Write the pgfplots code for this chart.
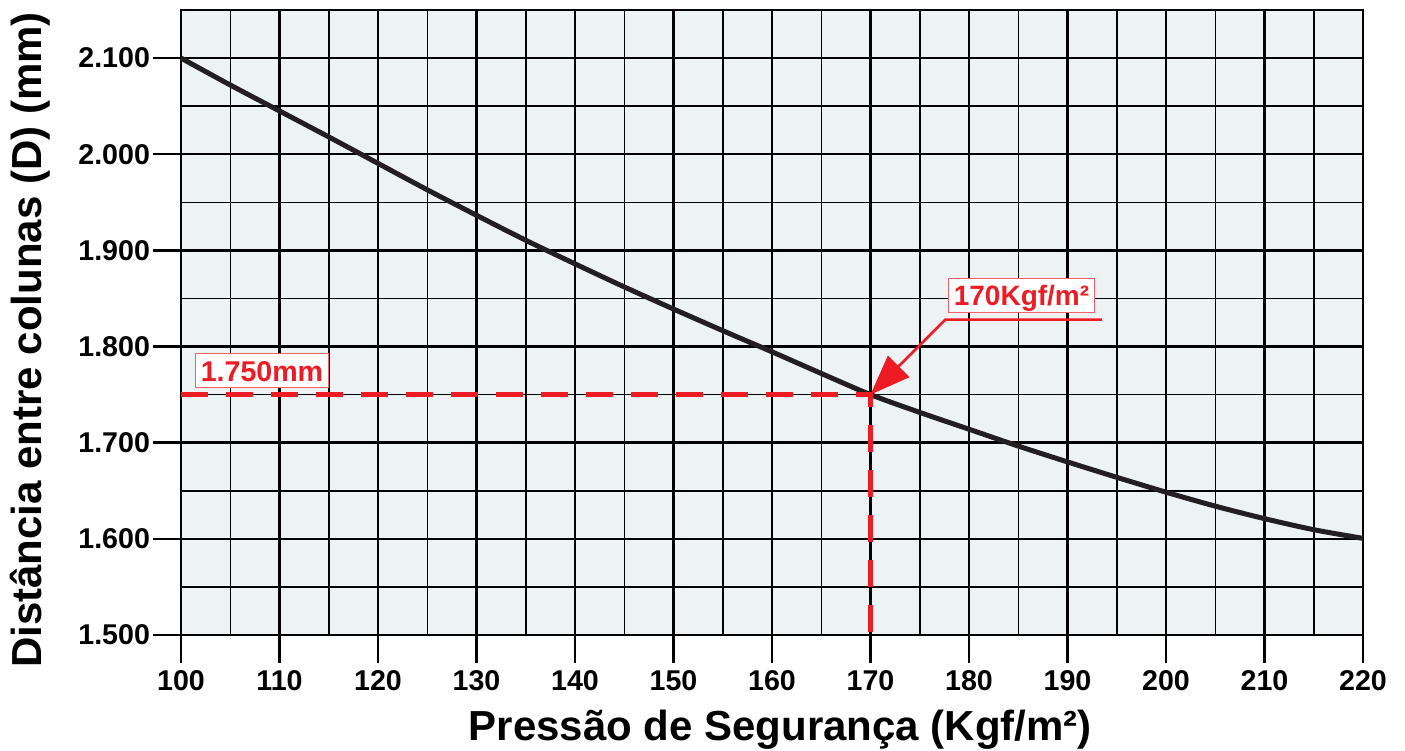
\documentclass[border=0pt]{standalone}
\usepackage{fontspec}
\setmainfont{Liberation Sans}
\usepackage{pgfplots}
\pgfplotsset{compat=1.18}
\usetikzlibrary{arrows.meta}
\definecolor{gbg}{HTML}{EDF2F5}
\definecolor{cred}{HTML}{ED1C24}
\definecolor{curvec}{HTML}{231F20}
\begin{document}
\begin{tikzpicture}
\begin{axis}[
 scale only axis, width=591pt, height=312.5pt,
 xmin=100,xmax=220,ymin=1500,ymax=2150,
 xtick={100,110,...,220}, ytick={1500,1600,...,2100},
 yticklabels={1.500,1.600,1.700,1.800,1.900,2.000,2.100},
 minor xtick={105,115,...,215}, minor ytick={1550,1650,...,2150},
 grid=both,
 major grid style={black, line width=1.2pt},
 minor grid style={black, line width=0.75pt},
 axis background/.style={fill=gbg},
 axis line style={black,line width=1.3pt},
 tick align=outside, major tick length=14pt, minor tick length=0pt,
 xtick pos=bottom, ytick pos=left,
 major tick style={black,line width=1.2pt},
 /pgf/number format/assume math mode=true,
 ticklabel style={font=\fontsize{14.3}{14.3}\selectfont\bfseries},
 yticklabel style={xshift=2pt},
 xlabel={Pressão de Segurança (Kgf/m²)},
 ylabel={Distância entre colunas (D) (mm)},
 label style={font=\fontsize{21}{21}\selectfont\bfseries},
 xlabel style={at={(axis description cs:0.507,-0.152)}, anchor=center},
 ylabel style={at={(axis description cs:-0.1277,0.472)}, anchor=center},
 clip=false,
]
\addplot[curvec, line width=2.5pt, smooth] coordinates {
(100,2100)(105,2072)(110,2045)(115,2018)(120,1990.5)(125,1963)(130,1936.5)
(135,1910.5)(140,1886)(145,1862)(150,1839)(155,1816.5)(160,1794.5)(165,1772)
(170,1750)(175,1731.5)(180,1714)(185,1696.5)(190,1680)(195,1664)(200,1648.5)
(205,1634)(210,1621)(215,1609.5)(220,1600.5)};
\addplot[cred, line width=2.2pt, dash pattern=on 13.5pt off 9pt] coordinates {(100,1750)(170,1750)(170,1500)};
\draw[cred, line width=1.3pt, -{Triangle[length=20pt,width=15pt]}] (axis cs:193.5,1828) -- (axis cs:177.6,1828) -- (axis cs:170,1750);
\node[draw=cred!70, line width=0.6pt, fill=white, text=cred, font=\fontsize{14.3}{14.3}\selectfont\bfseries, inner xsep=2.5pt, inner ysep=3.3pt, text height=10.5pt, text depth=0pt] at (axis cs:108.22,1775) {1.750mm};
\node[draw=cred!70, line width=0.6pt, fill=white, text=cred, font=\fontsize{14}{14}\selectfont\bfseries, inner xsep=2.5pt, inner ysep=3.3pt, text height=10.5pt, text depth=0pt] at (axis cs:185.33,1853.1) {170Kgf/m²};
\coordinate (SW) at (rel axis cs:0,0);
\coordinate (NE) at (rel axis cs:1,1);
\end{axis}
\pgfresetboundingbox
\path ([shift={(-90.5pt,-58pt)}]SW) rectangle ([shift={(21pt,5pt)}]NE);
\end{tikzpicture}
\end{document}
